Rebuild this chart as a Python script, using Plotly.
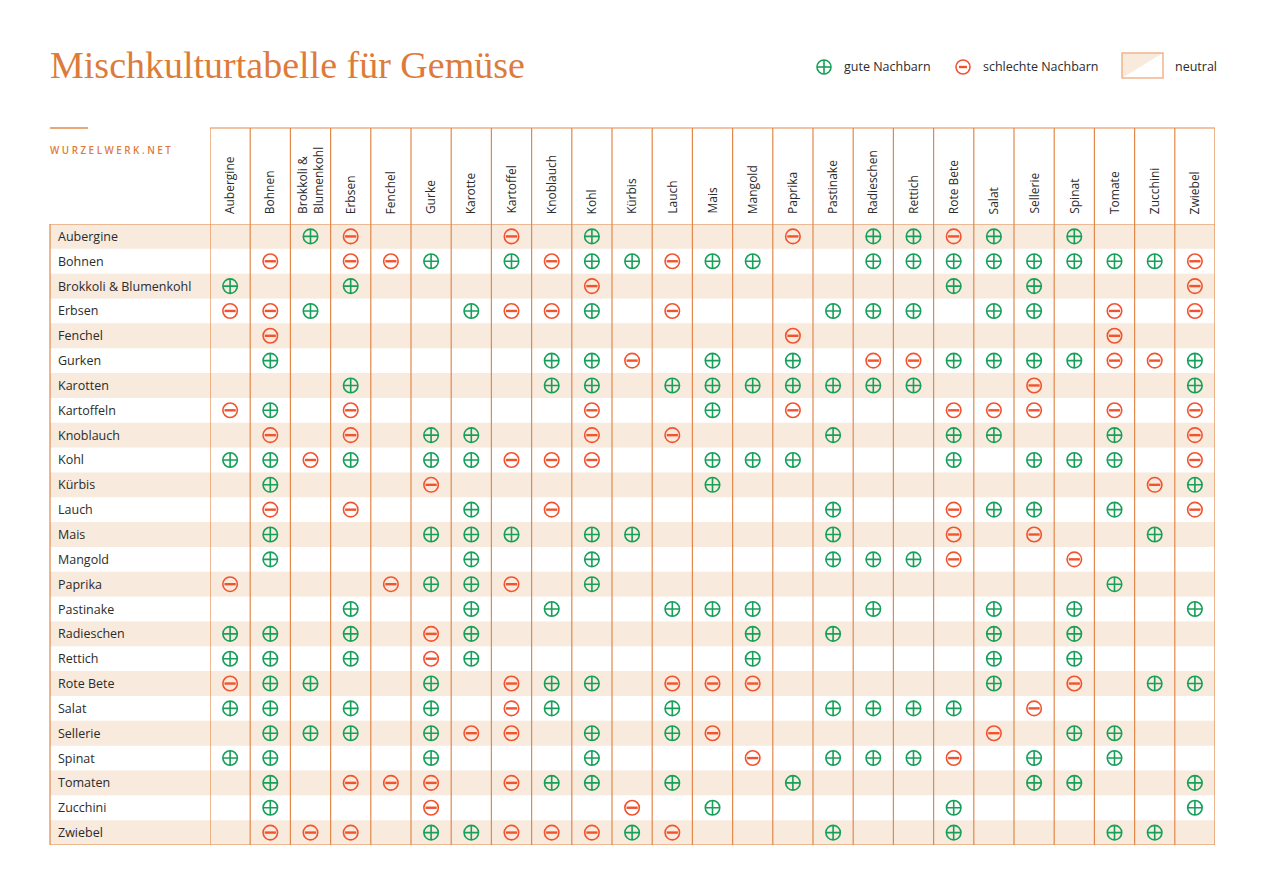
import plotly.graph_objects as go

PAGE_W, PAGE_H = 1267, 896
OFF = 8  # default body margin of the page
W, H = PAGE_W - 2 * OFF, PAGE_H - 2 * OFF

col_labels = ["Aubergine", "Bohnen", "Brokkoli &<br>Blumenkohl", "Erbsen", "Fenchel", "Gurke",
              "Karotte", "Kartoffel", "Knoblauch", "Kohl", "Kürbis", "Lauch", "Mais", "Mangold",
              "Paprika", "Pastinake", "Radieschen", "Rettich", "Rote Bete", "Salat", "Sellerie",
              "Spinat", "Tomate", "Zucchini", "Zwiebel"]

row_labels = ["Aubergine", "Bohnen", "Brokkoli & Blumenkohl", "Erbsen", "Fenchel", "Gurken",
              "Karotten", "Kartoffeln", "Knoblauch", "Kohl", "Kürbis", "Lauch", "Mais", "Mangold",
              "Paprika", "Pastinake", "Radieschen", "Rettich", "Rote Bete", "Salat", "Sellerie",
              "Spinat", "Tomaten", "Zucchini", "Zwiebel"]

# '+' = gute Nachbarn, '-' = schlechte Nachbarn, '.' = neutral (columns in col_labels order)
ratings = [
    "..+-. ..-.+ ....- .++-+ .+...",  # Aubergine
    ".-.-- +.+-+ +-++. .++++ ++++-",  # Bohnen
    "+..+. ....- ..... ...+. +...-",  # Brokkoli & Blumenkohl
    "--+.. .+--+ .-... +++.+ +.-.-",  # Erbsen
    ".-... ..... ....- ..... ..-..",  # Fenchel
    ".+... ...++ -.+.+ .--++ ++--+",  # Gurken
    "...+. ...++ .++++ +++.. -...+",  # Karotten
    "-+.-. ....- ..+.- ...-- -.-.-",  # Kartoffeln
    ".-.-. ++..- .-... +..++ ..+.-",  # Knoblauch
    "++-+. ++--- ..+++ ...+. +++.-",  # Kohl
    ".+... -.... ..+.. ..... ...-+",  # Kürbis
    ".-.-. .+.-. ..... +..-+ +.+.-",  # Lauch
    ".+... +++.+ +.... +..-. -..+.",  # Mais
    ".+... .+..+ ..... +++-. .-...",  # Mangold
    "-...- ++-.+ ..... ..... ..+..",  # Paprika
    "...+. .+.+. .+++. .+..+ .+..+",  # Pastinake
    "++.+. -+... ...+. +...+ .+...",  # Radieschen
    "++.+. -+... ...+. ....+ .+...",  # Rettich
    "-++.. +.-++ .---. ....+ .-.++",  # Rote Bete
    "++.+. +.-+. .+... ++++. -....",  # Salat
    ".+++. +--.+ .+-.. ....- .++..",  # Sellerie
    "++... +...+ ...-. +++-. +.+..",  # Spinat
    ".+.-- -.-++ .+..+ ..... ++..+",  # Tomaten
    ".+... -.... -.+.. ...+. ....+",  # Zucchini
    ".---. ++--- +-... +..+. ..++.",  # Zwiebel
]

title_text = "Mischkulturtabelle für Gemüse"
source_text = "WURZELWERK.NET"
legend_labels = ["gute Nachbarn", "schlechte Nachbarn", "neutral"]

ORANGE = "#E2884A"
TITLE_ORANGE = "#DD7B3B"
BEIGE = "#F8EADC"
GREEN = "#17A05A"
RED = "#F2532F"
TEXT = "#2B2B2B"
LABEL_FONT = "Open Sans"


def px(x):
    return (x - OFF) / W


def py(y):
    return 1 - (y - OFF) / H


codes = [r.replace(" ", "") for r in ratings]
gx, gy, bx, by = [], [], [], []
for i, code in enumerate(codes):
    for j, c in enumerate(code):
        if c == "+":
            gx.append(col_labels[j]); gy.append(row_labels[i])
        elif c == "-":
            bx.append(col_labels[j]); by.append(row_labels[i])

fig = go.Figure()
fig.add_trace(go.Scatter(x=gx, y=gy, mode="markers", hoverinfo="skip",
                         marker=dict(symbol="circle-cross-open", size=14.5, color=GREEN,
                                     line=dict(width=1.6, color=GREEN))))
fig.add_trace(go.Scatter(x=bx, y=by, mode="markers", hoverinfo="skip",
                         marker=dict(symbol="circle-open", size=14.5, color=RED,
                                     line=dict(width=1.6, color=RED))))
fig.add_trace(go.Scatter(x=bx, y=by, mode="markers", hoverinfo="skip",
                         marker=dict(symbol="line-ew-open", size=8, color=RED,
                                     line=dict(width=2.4, color=RED))))

shapes = []
n_rows, n_cols = len(row_labels), len(col_labels)
# row bands
for i in range(0, n_rows, 2):
    shapes.append(dict(type="rect", xref="paper", yref="y", x0=px(50), x1=px(1215),
                       y0=i - 0.5, y1=i + 0.5, fillcolor=BEIGE, line=dict(width=0), layer="below"))
# vertical column lines (header top to table bottom)
for j in range(n_cols + 1):
    shapes.append(dict(type="line", xref="x", yref="paper", x0=j - 0.5, x1=j - 0.5,
                       y0=py(845), y1=py(128), line=dict(color=ORANGE, width=1.2)))
# header top line
shapes.append(dict(type="line", xref="x", yref="paper", x0=-0.5, x1=n_cols - 0.5,
                   y0=py(128), y1=py(128), line=dict(color=ORANGE, width=1.2)))
# body top / bottom lines
for yb in (-0.5, n_rows - 0.5):
    shapes.append(dict(type="line", xref="paper", yref="y", x0=px(50), x1=px(1215),
                       y0=yb, y1=yb, line=dict(color=ORANGE, width=1.2)))
# left border
shapes.append(dict(type="line", xref="paper", yref="y", x0=px(50), x1=px(50),
                   y0=-0.5, y1=n_rows - 0.5, line=dict(color=ORANGE, width=1.2)))
# short accent line above source
shapes.append(dict(type="line", xref="paper", yref="paper", x0=px(50), x1=px(88),
                   y0=py(128), y1=py(128), line=dict(color=ORANGE, width=1.5)))

# legend: plus symbol
cx, cy, r = 824, 67, 7
shapes.append(dict(type="circle", xref="paper", yref="paper", x0=px(cx - r), x1=px(cx + r),
                   y0=py(cy + r), y1=py(cy - r), line=dict(color=GREEN, width=1.6)))
shapes.append(dict(type="line", xref="paper", yref="paper", x0=px(cx - r), x1=px(cx + r),
                   y0=py(cy), y1=py(cy), line=dict(color=GREEN, width=1.6)))
shapes.append(dict(type="line", xref="paper", yref="paper", x0=px(cx), x1=px(cx),
                   y0=py(cy + r), y1=py(cy - r), line=dict(color=GREEN, width=1.6)))
# legend: minus symbol
cx = 963
shapes.append(dict(type="circle", xref="paper", yref="paper", x0=px(cx - r), x1=px(cx + r),
                   y0=py(cy + r), y1=py(cy - r), line=dict(color=RED, width=1.6)))
shapes.append(dict(type="line", xref="paper", yref="paper", x0=px(cx - 4), x1=px(cx + 4),
                   y0=py(cy), y1=py(cy), line=dict(color=RED, width=2.4)))
# legend: neutral swatch
x0s, x1s, y0s, y1s = 1122, 1163, 53, 78
shapes.append(dict(type="path", xref="paper", yref="paper",
                   path=f"M {px(x0s)},{py(y0s)} L {px(x1s)},{py(y0s)} L {px(x0s)},{py(y1s)} Z",
                   fillcolor=BEIGE, line=dict(width=0)))
shapes.append(dict(type="rect", xref="paper", yref="paper", x0=px(x0s), x1=px(x1s),
                   y0=py(y1s), y1=py(y0s), line=dict(color="#EFB58A", width=1.5)))

annotations = []
for j, lab in enumerate(col_labels):
    annotations.append(dict(x=lab, y=py(216), xref="x", yref="paper", text=lab,
                            textangle=-90, xanchor="center", yanchor="bottom", align="left",
                            showarrow=False,
                            font=dict(family=LABEL_FONT, size=12, color=TEXT)))
for i, lab in enumerate(row_labels):
    annotations.append(dict(x=px(56), y=lab, xref="paper", yref="y", text=lab,
                            xanchor="left", yanchor="middle", showarrow=False,
                            font=dict(family=LABEL_FONT, size=12.5, color=TEXT)))
annotations.append(dict(x=px(48), y=py(65), xref="paper", yref="paper", text=title_text,
                        xanchor="left", yanchor="middle", showarrow=False,
                        font=dict(family="Liberation Serif", size=38, color=TITLE_ORANGE)))
annotations.append(dict(x=px(48), y=py(150), xref="paper", yref="paper",
                        text=" ".join(source_text), xanchor="left", yanchor="middle",
                        showarrow=False,
                        font=dict(family=LABEL_FONT, size=9.8, color=TITLE_ORANGE, weight=600)))
for lab, xl in zip(legend_labels, (842, 981, 1173)):
    annotations.append(dict(x=px(xl), y=py(67), xref="paper", yref="paper", text=lab,
                            xanchor="left", yanchor="middle", showarrow=False,
                            font=dict(family=LABEL_FONT, size=12.5, color=TEXT)))

fig.update_layout(
    width=W, height=H, margin=dict(l=0, r=0, t=0, b=0),
    paper_bgcolor="white", plot_bgcolor="rgba(0,0,0,0)",
    showlegend=False, shapes=shapes, annotations=annotations,
    xaxis=dict(type="category", categoryorder="array", categoryarray=col_labels,
               domain=[px(210), px(1215)], range=[-0.5, n_cols - 0.5],
               showgrid=False, zeroline=False, showticklabels=False, showline=False,
               fixedrange=True),
    yaxis=dict(type="category", categoryorder="array", categoryarray=row_labels,
               domain=[py(845), py(224)], range=[n_rows - 0.5, -0.5],
               showgrid=False, zeroline=False, showticklabels=False, showline=False,
               fixedrange=True),
)

fig.write_html("out.html", config={"displayModeBar": False})
